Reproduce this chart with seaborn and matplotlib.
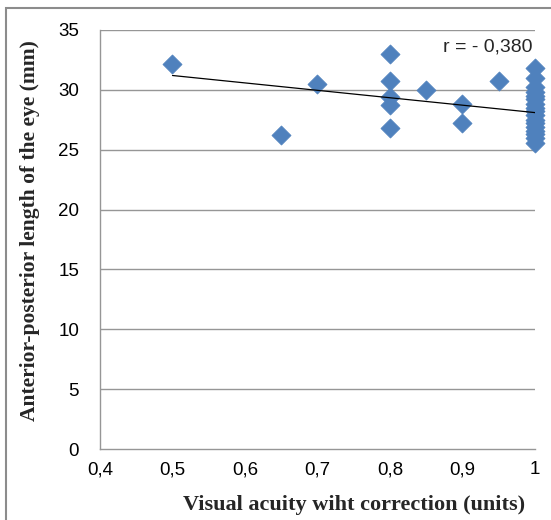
import matplotlib
matplotlib.use("Agg")
import matplotlib.pyplot as plt
import seaborn as sns
import pandas as pd
from matplotlib.patches import Rectangle

acuity = [0.5, 0.65, 0.7, 0.8, 0.8, 0.8, 0.8, 0.8, 0.85, 0.9, 0.9, 0.95,
          1, 1, 1, 1, 1, 1, 1, 1, 1, 1, 1, 1, 1, 1, 1, 1, 1]
axial_length = [32.2, 26.2, 30.5, 33.0, 30.7, 29.4, 28.7, 26.8, 30.0, 28.8, 27.2, 30.7,
                31.8, 31.0, 30.2, 29.8, 29.5, 29.2, 28.8, 28.5, 28.2, 27.9, 27.5, 27.2,
                26.9, 26.6, 26.3, 26.0, 25.6]
trend_x = [0.5, 1.0]
trend_y = [31.2, 28.1]
x_ticks = [0.4, 0.5, 0.6, 0.7, 0.8, 0.9, 1.0]
x_tick_labels = ["0,4", "0,5", "0,6", "0,7", "0,8", "0,9", "1"]
y_ticks = [0, 5, 10, 15, 20, 25, 30, 35]

df = pd.DataFrame({"x": acuity, "y": axial_length})
tr = pd.DataFrame({"x": trend_x, "y": trend_y})

sns.set_style("white")
plt.rcParams["font.family"] = ["Liberation Sans", "DejaVu Sans"]

fig = plt.figure(figsize=(5.51, 5.2), dpi=100)
ax = fig.add_axes([100/551, 1 - 449/520, 435/551, 419/520])

for yv in y_ticks[1:]:
    ax.axhline(yv, color="#969696", lw=1.0, zorder=0)

sns.scatterplot(data=df, x="x", y="y", ax=ax, marker="D", s=95,
                color="#4F81BD", edgecolor="#4F81BD", linewidth=0.5, zorder=3,
                clip_on=False)
sns.lineplot(data=tr, x="x", y="y", ax=ax, color="black", lw=0.9, zorder=4)

ax.set_xlim(0.4, 1.0)
ax.set_ylim(0, 35)
ax.set_xticks(x_ticks)
ax.set_xticklabels(x_tick_labels)
ax.set_yticks(y_ticks)
ax.tick_params(axis="both", labelsize=13.5, colors="#969696", labelcolor="black",
               length=5, width=1, direction="out")
ax.tick_params(axis="x", pad=4)
ax.tick_params(axis="y", pad=10)
for s in ["top", "right"]:
    ax.spines[s].set_visible(False)
for s in ["left", "bottom"]:
    ax.spines[s].set_color("#969696")
    ax.spines[s].set_linewidth(1.0)
ax.set_xlabel("")
ax.set_ylabel("")

fig.text(354/551, 1 - 505/520, "Visual acuity wiht correction (units)",
         ha="center", va="center", fontsize=16, fontweight="bold",
         family=["Liberation Serif", "DejaVu Serif"])
fig.text(30/551, 1 - 231/520, "Anterior-posterior length of the eye (mm)",
         ha="center", va="center", rotation=90, fontsize=15.5, fontweight="bold",
         family=["Liberation Serif", "DejaVu Serif"])
ax.text(0.997, 33.6, "r = - 0,380", ha="right", va="center", fontsize=14)

fig.patches.append(Rectangle((6/551, -0.1), 1.2, 1 - 8/520 + 0.1,
                             transform=fig.transFigure, fill=False,
                             edgecolor="#8c8c8c", lw=1.5))

fig.savefig("out.png", dpi=100)
